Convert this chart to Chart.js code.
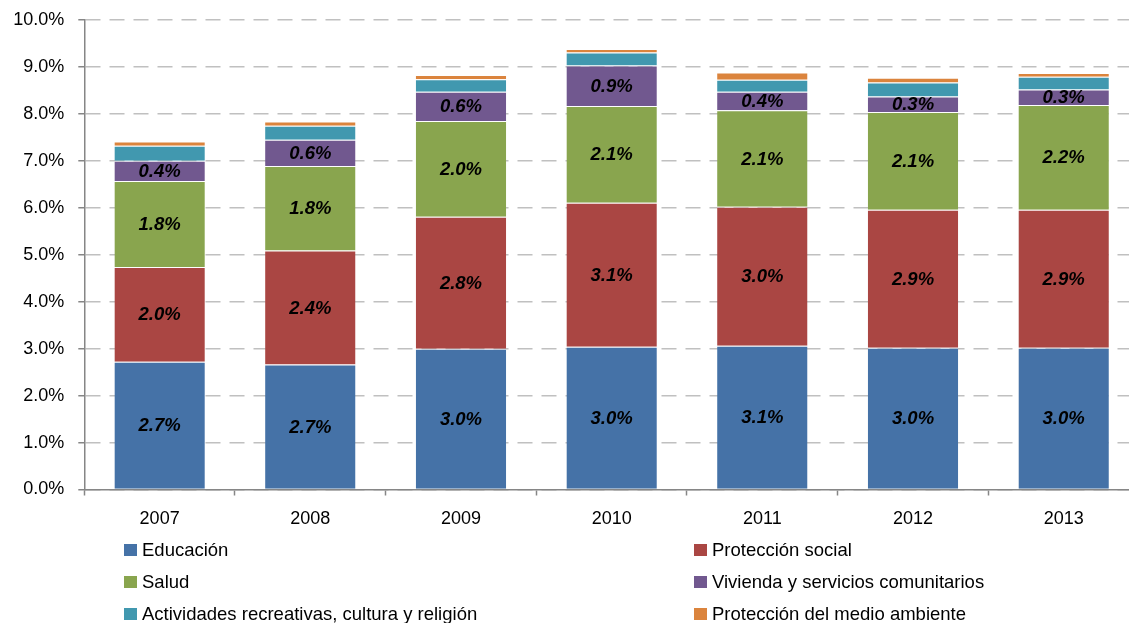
<!DOCTYPE html>
<html lang="es">
<head>
<meta charset="utf-8">
<script src="https://cdn.jsdelivr.net/npm/chart.js@4/dist/chart.umd.min.js"></script>
<style>
  html, body { margin: 0; padding: 0; background: #ffffff; overflow: hidden; }
  #wrap { position: relative; width: 1129px; height: 623px; overflow: hidden; }
  #chart { position: absolute; left: 0; top: 0; }
  .leg { position: absolute; font-family: "Liberation Sans", Arial, sans-serif; font-size: 18.5px;
         color: #000; white-space: nowrap; line-height: 22px; }
  .leg span.box { position: absolute; width: 13px; height: 12px; }
</style>
</head>
<body>
<div id="wrap">
  <canvas id="chart" width="1140" height="623"></canvas>
</div>
<script>
// Gasto público por función, % del PIB
const years = ['2007', '2008', '2009', '2010', '2011', '2012', '2013'];

const educacion      = [2.72, 2.66, 3.00, 3.04, 3.06, 3.02, 3.02];
const proteccion     = [2.02, 2.43, 2.81, 3.07, 2.96, 2.94, 2.94];
const salud          = [1.83, 1.80, 2.04, 2.06, 2.06, 2.08, 2.23];
const vivienda       = [0.43, 0.56, 0.62, 0.86, 0.39, 0.33, 0.33];
const actividades    = [0.32, 0.30, 0.27, 0.28, 0.26, 0.30, 0.27];
const medioAmbiente  = [0.09, 0.09, 0.09, 0.07, 0.15, 0.10, 0.08];

const seriesNames = [
  'Educación',
  'Protección social',
  'Salud',
  'Vivienda y servicios comunitarios',
  'Actividades recreativas, cultura y religión',
  'Protección del medio ambiente'
];
const seriesColors = ['#4572A7', '#AA4643', '#89A54E', '#71588F', '#4198AF', '#DB843D'];
const seriesValues = [educacion, proteccion, salud, vivienda, actividades, medioAmbiente];
// only the four largest components carry value labels
const labelledSeries = [0, 1, 2, 3];

const yTicks = [0, 1, 2, 3, 4, 5, 6, 7, 8, 9, 10];

const datasets = seriesNames.map((name, i) => ({
  label: name,
  data: seriesValues[i],
  backgroundColor: seriesColors[i],
  borderColor: 'rgba(255,255,255,0.55)',
  borderWidth: { top: 1, left: 0, right: 0, bottom: 0 },
  borderSkipped: false,
  categoryPercentage: 1.0,
  barPercentage: 0.6
}));

// value labels drawn in the middle of each segment
const segmentLabels = {
  id: 'segmentLabels',
  afterDatasetsDraw(chart) {
    const ctx = chart.ctx;
    ctx.save();
    ctx.font = 'italic bold 18.5px "Liberation Sans", Arial, sans-serif';
    ctx.fillStyle = '#000';
    ctx.textAlign = 'center';
    ctx.textBaseline = 'middle';
    labelledSeries.forEach(di => {
      const meta = chart.getDatasetMeta(di);
      meta.data.forEach((bar, j) => {
        const v = chart.data.datasets[di].data[j];
        const cy = (bar.y + bar.base) / 2;
        ctx.fillText(v.toFixed(1) + '%', bar.x, cy + 1);
      });
    });
    ctx.restore();
  }
};

const tickFont = { family: '"Liberation Sans", Arial, sans-serif', size: 18 };

new Chart(document.getElementById('chart'), {
  type: 'bar',
  data: { labels: years, datasets },
  options: {
    responsive: false,
    devicePixelRatio: 1,
    animation: false,
    layout: { padding: { top: 20, left: 0, right: 1, bottom: 93.5 } },
    plugins: {
      legend: { display: false },
      tooltip: { enabled: false }
    },
    scales: {
      x: {
        stacked: true,
        offset: true,
        afterFit(s) { s.height = 40; s.paddingLeft = 0; s.paddingRight = 0; },
        grid: {
          display: true,
          offset: true,
          drawOnChartArea: false,
          drawTicks: true,
          tickLength: 6,
          tickColor: '#868686',
          tickWidth: 1.5
        },
        border: { display: true, color: '#868686', width: 1.5 },
        ticks: { color: '#000', font: tickFont, padding: 13, maxRotation: 0 }
      },
      y: {
        stacked: true,
        min: 0,
        max: 10,
        afterFit(s) { s.width = 84.3; s.paddingTop = 0; s.paddingBottom = 0; },
        afterBuildTicks(s) { s.ticks = yTicks.map(v => ({ value: v })); },
        grid: {
          color: '#c0c0c0',
          lineWidth: 1.5,
          drawTicks: true,
          tickLength: 6,
          tickColor: '#868686',
          tickWidth: 1.5,
          tickBorderDash: []
        },
        border: { display: true, color: '#868686', width: 1.5, dash: [15, 9] },
        ticks: {
          color: '#000',
          font: tickFont,
          padding: 14,
          callback: v => Number(v).toFixed(1) + '%'
        }
      }
    }
  },
  plugins: [segmentLabels]
});

// two-column legend below the plot
const wrap = document.getElementById('wrap');
const legendCols = [124, 694];
const legendRows = [550, 582, 614];
seriesNames.forEach((name, i) => {
  const col = i % 2, row = Math.floor(i / 2);
  const item = document.createElement('div');
  item.className = 'leg';
  item.style.left = legendCols[col] + 'px';
  item.style.top = (legendRows[row] - 11) + 'px';
  item.style.paddingLeft = '18px';
  const box = document.createElement('span');
  box.className = 'box';
  box.style.left = '0px';
  box.style.top = '5px';
  box.style.background = seriesColors[i];
  item.appendChild(box);
  item.appendChild(document.createTextNode(name));
  wrap.appendChild(item);
});
</script>
</body>
</html>
